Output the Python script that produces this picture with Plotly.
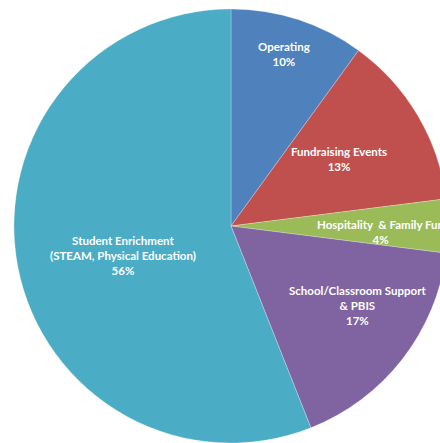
import math
import plotly.graph_objects as go

# ---- data ----
categories = ["Operating", "Fundraising Events", "Hospitality  & Family Fun",
              "School/Classroom Support<br>& PBIS",
              "Student Enrichment<br>(STEAM, Physical Education)"]
values = [10, 13, 4, 17, 56]
colors = ["#4F81BD", "#C0504D", "#9BBB59", "#8064A2", "#4BACC6"]

# label placement style: (radius fraction, angular fraction within slice)
label_style = [(0.83, 0.475), (0.586, 0.48), (0.69, 0.67), (0.69, 0.405), (0.517, 0.478)]

W, H = 462, 443
MT, MB, ML, MR = 9, 0, 0, 0
gw, gh = W - ML - MR, H - MT - MB
cx, cy = ML + gw / 2, MT + gh / 2
R = min(gw, gh) / 2

fig = go.Figure(go.Pie(
    labels=categories,
    values=values,
    sort=False,
    direction="clockwise",
    rotation=0,
    marker=dict(colors=colors, line=dict(color="rgba(255,255,255,0.5)", width=0.5)),
    textinfo="none",
    hoverinfo="skip",
    domain=dict(x=[0, 1], y=[0, 1]),
    showlegend=False,
))

total = sum(values)
cum = 0
annotations = []
for cat, v, (rf, af) in zip(categories, values, label_style):
    a0 = cum / total * 360
    a1 = (cum + v) / total * 360
    ang = math.radians(a0 + (a1 - a0) * af)
    px = cx + rf * R * math.sin(ang)
    py = cy - rf * R * math.cos(ang)
    annotations.append(dict(
        x=(px - ML) / gw, y=(H - MB - py) / gh, xref="paper", yref="paper",
        text=f"{cat}<br>{round(v / total * 100)}%",
        showarrow=False, xanchor="center", yanchor="middle",
        font=dict(family="Lato", size=11.5, color="white", weight=700),
        align="center",
    ))
    cum += v

fig.update_layout(
    width=W, height=H,
    margin=dict(l=ML, r=MR, t=MT, b=MB),
    paper_bgcolor="white", plot_bgcolor="white",
    annotations=annotations,
)

fig.write_html(
    "out.html",
    config={"displayModeBar": False},
    post_script="document.body.style.margin='0';document.body.style.overflow='hidden';document.documentElement.style.overflow='hidden';",
)
